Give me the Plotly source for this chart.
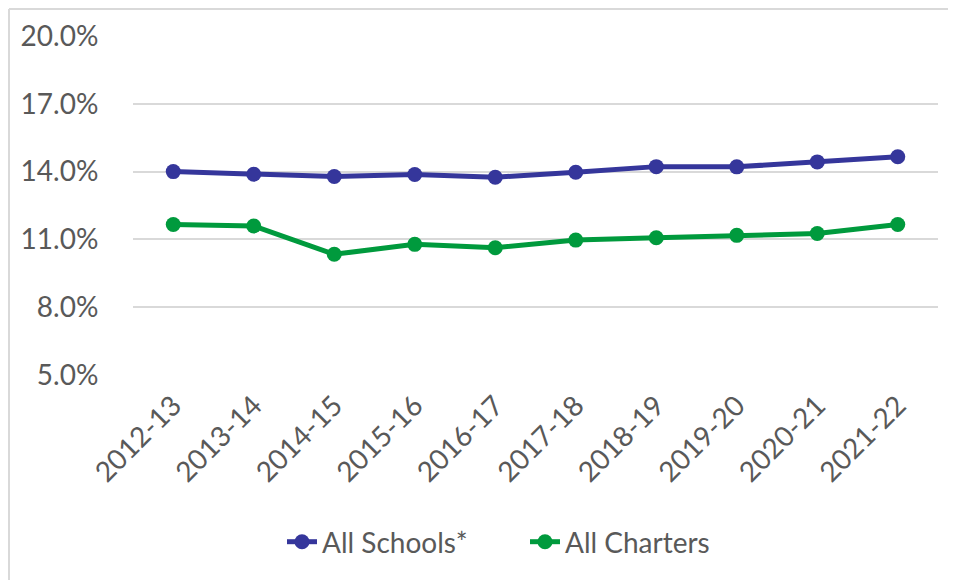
import plotly.graph_objects as go

years = ["2012-13", "2013-14", "2014-15", "2015-16", "2016-17",
         "2017-18", "2018-19", "2019-20", "2020-21", "2021-22"]
all_schools = [14.0, 13.88, 13.78, 13.87, 13.75, 13.97, 14.22, 14.21, 14.43, 14.66]
all_charters = [11.66, 11.59, 10.34, 10.78, 10.63, 10.97, 11.07, 11.18, 11.26, 11.66]
y_ticks = [5, 8, 11, 14, 17, 20]
y_tick_text = ["5.0%", "8.0%", "11.0%", "14.0%", "17.0%", "20.0%"]

BLUE = "#35369B"
GREEN = "#009A3D"
TXT = "#595959"
GRID = "#D9D9D9"
FONT = "Lato"
FS = 28

# page has an 8px body margin; figure coordinates are offset accordingly
OFF = 8
W, H = 956 - OFF, 580 - OFF
L, T = 133 - OFF, 36 - OFF
R = W - (938 - OFF)
B = H - (375 - OFF)
pw = W - L - R
ph = H - T - B

fig = go.Figure()
fig.add_trace(go.Scatter(x=years, y=all_schools, name="All Schools*", mode="lines+markers",
                         line=dict(color=BLUE, width=5), marker=dict(color=BLUE, size=15),
                         legend="legend"))
fig.add_trace(go.Scatter(x=years, y=all_charters, name="All Charters", mode="lines+markers",
                         line=dict(color=GREEN, width=5), marker=dict(color=GREEN, size=15),
                         legend="legend2"))

leg_y = (375 - 542) / ph
leg_common = dict(orientation="h", xanchor="left", y=leg_y, yanchor="middle",
                  font=dict(size=FS, color=TXT, family=FONT), bgcolor="rgba(0,0,0,0)")

fig.update_layout(
    width=W, height=H,
    margin=dict(l=L, r=R, t=T, b=B, pad=0, autoexpand=False),
    paper_bgcolor="white", plot_bgcolor="white",
    font=dict(family=FONT, color=TXT, size=FS),
    showlegend=True,
    legend=dict(x=(282 - 133) / pw, **leg_common),
    legend2=dict(x=(525 - 133) / pw, **leg_common),
    xaxis=dict(type="category", range=[-0.5, len(years) - 0.5], tickangle=-45,
               showgrid=False, showline=False,
               zeroline=False, ticks="outside", ticklen=2, tickcolor="rgba(0,0,0,0)",
               tickfont=dict(size=FS, color=TXT, family=FONT)),
    yaxis=dict(range=[5, 20], tickvals=y_ticks, ticktext=y_tick_text,
               showgrid=True, gridcolor=GRID, gridwidth=2, zeroline=False,
               showline=False, ticks="outside", ticklen=28, tickcolor="rgba(0,0,0,0)",
               tickfont=dict(size=FS, color=TXT, family=FONT)),
)

# outer chart frame (left and top edges visible)
x_left = (1 - L) / pw
y_top = (H - B - 1) / ph
fig.add_shape(type="line", xref="paper", yref="paper", x0=x_left, x1=(W - L) / pw,
              y0=y_top, y1=y_top, line=dict(color=GRID, width=2))
fig.add_shape(type="line", xref="paper", yref="paper", x0=x_left, x1=x_left,
              y0=y_top, y1=-(B + 10) / ph, line=dict(color=GRID, width=2))

fig.write_html("out.html")
